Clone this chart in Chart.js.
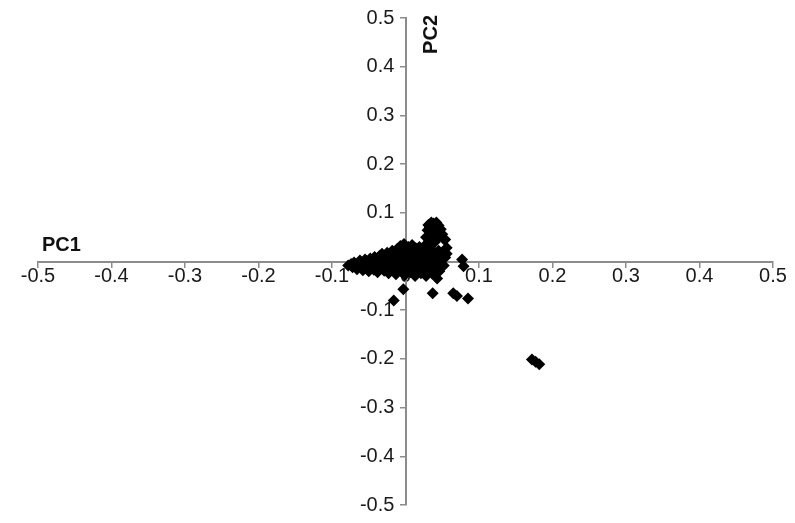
<!DOCTYPE html>
<html>
<head>
<meta charset="utf-8">
<script src="https://cdn.jsdelivr.net/npm/chart.js@4/dist/chart.umd.min.js"></script>
<style>
  body { margin: 0; background: #fff; }
  #wrap { width: 795px; height: 523px; }
</style>
</head>
<body>
<div id="wrap"><canvas id="grafico" width="795" height="523"></canvas></div>
<script>
// tick values for both axes
const ticksX = [-0.5, -0.4, -0.3, -0.2, -0.1, 0, 0.1, 0.2, 0.3, 0.4, 0.5];
const ticksY = [-0.5, -0.4, -0.3, -0.2, -0.1, 0, 0.1, 0.2, 0.3, 0.4, 0.5];
const tituloX = 'PC1';
const tituloY = 'PC2';

// scores PC1 (x) / PC2 (y)
const pc1 = [
  -0.078, -0.074, -0.072, -0.070, -0.068, -0.066, -0.064, -0.062, -0.060, -0.058,
  -0.057, -0.055, -0.053, -0.051, -0.050, -0.048, -0.047, -0.045, -0.043, -0.042,
  -0.040, -0.038, -0.037, -0.035, -0.034, -0.032, -0.031, -0.029, -0.028, -0.026,
  -0.025, -0.023, -0.022, -0.021, -0.019, -0.018, -0.016, -0.015, -0.013, -0.012,
  -0.011, -0.010, -0.008, -0.007, -0.006, -0.005, -0.004, -0.003, -0.002, -0.001,
   0.000,  0.001,  0.002,  0.003,  0.004,  0.005,  0.006,  0.007,  0.008,  0.009,
   0.010,  0.011,  0.012,  0.013,  0.014,  0.015,  0.016,  0.017,  0.018,  0.019,
   0.020,  0.021,  0.022,  0.023,  0.024,  0.025,  0.026,  0.027,  0.028,  0.029,
   0.030,  0.031,  0.032,  0.033,  0.034,  0.035,  0.036,  0.037,  0.038,  0.039,
   0.040,  0.041,  0.042,  0.043,  0.044,  0.045,  0.046,  0.048,  0.050,  0.052,
   0.054,  0.056,  0.028,  0.030,  0.031,  0.033,  0.034,  0.035,  0.037,  0.038,
   0.039,  0.040,  0.041,  0.042,  0.043,  0.044,  0.045,  0.046,  0.048,  0.050,
   0.052,  0.032,  0.036,  0.040,  0.027,  0.054,  0.056,  0.077,  0.079,  0.043,
  -0.003, -0.016,  0.037,  0.065,  0.070,  0.085,  0.172,  0.177,  0.182
];
const pc2 = [
  -0.008, -0.005, -0.012, -0.002, -0.010, -0.016, -0.004,  0.002, -0.012, -0.018,
  -0.006,  0.004, -0.014, -0.002, -0.020,  0.006, -0.010,  0.001, -0.017,  0.009,
  -0.006, -0.022,  0.004,  0.012, -0.013,  0.016, -0.002, -0.019,  0.008, -0.008,
   0.018, -0.024,  0.002,  0.012, -0.015,  0.022, -0.004,  0.008, -0.026,  0.016,
   0.026, -0.012,  0.003,  0.032, -0.020,  0.012,  0.020, -0.006,  0.036, -0.028,
   0.006,  0.026, -0.016,  0.015,  0.030, -0.004,  0.022, -0.022,  0.010,  0.034,
  -0.010,  0.018,  0.004, -0.030,  0.027, -0.016,  0.012,  0.020, -0.006,  0.030,
   0.002, -0.024,  0.016,  0.008, -0.012,  0.024, -0.002,  0.014, -0.030,  0.006,
   0.020, -0.018,  0.010, -0.006,  0.022,  0.002, -0.024,  0.014, -0.010,  0.006,
   0.018, -0.016,  0.000,  0.010, -0.006,  0.022, -0.020,  0.004,  0.014, -0.008,
   0.008,  0.016,  0.050,  0.064,  0.075,  0.070,  0.058,  0.080,  0.066,  0.078,
   0.054,  0.072,  0.062,  0.080,  0.068,  0.050,  0.074,  0.060,  0.066,  0.056,
   0.046,  0.042,  0.036,  0.040,  0.034,  0.045,  0.028,  0.004, -0.010, -0.035,
  -0.057, -0.080, -0.065, -0.065, -0.071, -0.076, -0.201, -0.206, -0.211
];

const pontos = pc1.map((x, i) => ({ x: x, y: pc2[i] }));

function rotulo(v) {
  let r = Math.round(v * 10) / 10;
  if (r === 0) return '0';
  return String(r);
}

//desenha os titulos dos eixos (PC1 em cima do eixo x, PC2 ao lado do eixo y)
const titulos = {
  id: 'titulos',
  afterDraw(chart) {
    const ctx = chart.ctx;
    const sx = chart.scales.x;
    const sy = chart.scales.y;
    ctx.save();
    ctx.fillStyle = '#111';
    ctx.font = 'bold 20px "Liberation Sans", Arial, sans-serif';
    ctx.textBaseline = 'alphabetic';
    ctx.textAlign = 'left';
    ctx.fillText(tituloX, sx.getPixelForValue(-0.5) + 4, sy.getPixelForValue(0) - 11);
    ctx.translate(sx.getPixelForValue(0) + 31, sy.getPixelForValue(0.5) - 3);
    ctx.rotate(-Math.PI / 2);
    ctx.textAlign = 'right';
    ctx.fillText(tituloY, 0, 0);
    ctx.restore();
  }
};

const chart = new Chart(document.getElementById('grafico'), {
  type: 'scatter',
  data: {
    datasets: [{
      label: tituloY,
      data: pontos,
      pointStyle: 'rectRot',
      pointRadius: 6,
      backgroundColor: '#000',
      borderColor: '#000',
      borderWidth: 0
    }]
  },
  options: {
    responsive: false,
    animation: false,
    layout: { padding: { left: 38, right: 22, top: 15, bottom: 18 } },
    plugins: { legend: { display: false }, tooltip: { enabled: false } },
    scales: {
      x: {
        type: 'linear',
        position: { y: 0 },
        min: -0.5,
        max: 0.5,
        afterBuildTicks: axis => { axis.ticks = ticksX.map(v => ({ value: v })); },
        grid: { drawOnChartArea: false, drawTicks: true, tickLength: 5, color: '#8c8c8c', lineWidth: 1.5 },
        border: { display: true, color: '#8c8c8c', width: 2 },
        ticks: {
          color: '#1a1a1a',
          padding: -2,
          maxRotation: 0,
          font: { family: '"Liberation Sans", Arial, sans-serif', size: 20 },
          callback: v => rotulo(v)
        }
      },
      y: {
        type: 'linear',
        position: { x: 0 },
        min: -0.5,
        max: 0.5,
        afterBuildTicks: axis => { axis.ticks = ticksY.map(v => ({ value: v })); },
        grid: { drawOnChartArea: false, drawTicks: true, tickLength: 5, color: '#8c8c8c', lineWidth: 1.5 },
        border: { display: true, color: '#8c8c8c', width: 2 },
        ticks: {
          color: '#1a1a1a',
          padding: 6,
          font: { family: '"Liberation Sans", Arial, sans-serif', size: 20 },
          // espacos no fim afastam o rotulo do eixo
          callback: v => (Math.abs(v) < 1e-9 ? '' : rotulo(v) + '  ')
        }
      }
    }
  },
  plugins: [titulos]
});
</script>
</body>
</html>
